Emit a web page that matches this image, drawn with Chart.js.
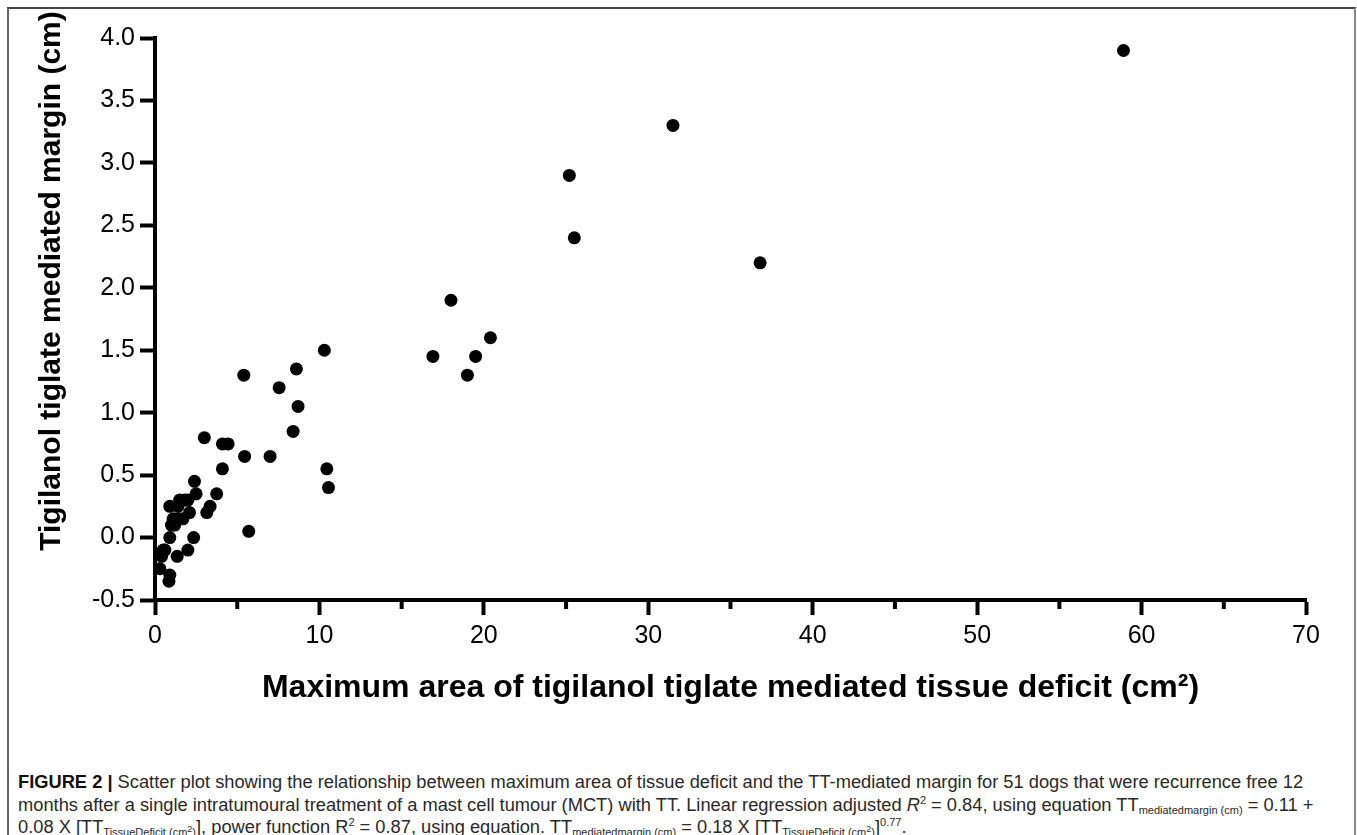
<!DOCTYPE html>
<html>
<head>
<meta charset="utf-8">
<script src="https://cdn.jsdelivr.net/npm/chart.js@4.4.1/dist/chart.umd.min.js"></script>
<style>
  html, body { margin:0; padding:0; background:#fff; width:1357px; height:835px; overflow:hidden; }
  #frame { position:absolute; left:7px; top:7px; width:1345px; height:900px;
           border-top:2px solid #444; border-left:2px solid #666; border-right:2px solid #888; pointer-events:none; }
  #chart { position:absolute; left:0; top:0; }
  #caption { position:absolute; left:18px; top:771px; font-family:"Liberation Sans Narrow","Liberation Sans",Arial,sans-serif;
             font-size:18.3px; line-height:22.5px; color:#2a2a2a; white-space:nowrap; }
  #caption sub { font-size:11px; line-height:0; vertical-align:-3px; }
  #caption sup { font-size:11px; line-height:0; vertical-align:7px; }
  #caption sub sup { vertical-align:4px; font-size:9px; }
  #caption b { font-weight:bold; color:#111; }
</style>
</head>
<body>
<div id="frame"></div>
<canvas id="chart" width="1357" height="720"></canvas>
<div id="caption">
<b>FIGURE 2 |</b> Scatter plot showing the relationship between maximum area of tissue deficit and the TT-mediated margin for 51 dogs that were recurrence free 12<br>
months after a single intratumoural treatment of a mast cell tumour (MCT) with TT. Linear regression adjusted <i>R</i><sup>2</sup> = 0.84, using equation TT<sub>mediatedmargin (cm)</sub> = 0.11 +<br>
0.08 X [TT<sub>TissueDeficit (cm<sup>2</sup>)</sub>], power function R<sup>2</sup> = 0.87, using equation. TT<sub>mediatedmargin (cm)</sub> = 0.18 X [TT<sub>TissueDeficit (cm<sup>2</sup>)</sub>]<sup>0.77</sup>.
</div>
<script>
// ---- data ----
const tissueDeficit = [58.9, 31.5, 25.2, 25.5, 36.8, 18.0, 20.4, 16.9, 19.5, 19.0,
  10.3, 8.6, 5.4, 7.55, 8.7, 8.4, 3.0, 4.1, 4.45, 5.45,
  7.0, 4.1, 10.45, 10.55, 2.4, 2.5, 3.75, 3.35, 3.15, 5.7,
  0.9, 1.4, 1.8, 2.0, 2.1, 1.7, 1.4, 1.2, 1.0, 0.9,
  2.35, 0.6, 0.4, 2.0, 1.35, 0.3, 0.9, 0.85, 0.5, 1.5, 1.1];
const mediatedMargin = [3.9, 3.3, 2.9, 2.4, 2.2, 1.9, 1.6, 1.45, 1.45, 1.3,
  1.5, 1.35, 1.3, 1.2, 1.05, 0.85, 0.8, 0.75, 0.75, 0.65,
  0.65, 0.55, 0.55, 0.4, 0.45, 0.35, 0.35, 0.25, 0.2, 0.05,
  0.25, 0.25, 0.3, 0.3, 0.2, 0.15, 0.15, 0.1, 0.1, 0.0,
  0.0, -0.1, -0.15, -0.1, -0.15, -0.25, -0.3, -0.35, -0.1, 0.3, 0.15];
const xMinorTicks = [5, 15, 25, 35, 45, 55, 65];
const xTitle = 'Maximum area of tigilanol tiglate mediated tissue deficit (cm\u00B2)';
const yTitle = 'Tigilanol tiglate mediated margin (cm)';

const FAMILY = '"Liberation Sans", Arial, Helvetica, sans-serif';

const minorTickPlugin = {
  id: 'minorTicks',
  beforeDatasetsDraw(chart) {
    const xs = chart.scales.x, ctx = chart.ctx;
    ctx.save();
    ctx.strokeStyle = '#000';
    ctx.lineWidth = 4;
    xMinorTicks.forEach(v => {
      const px = xs.getPixelForValue(v);
      ctx.beginPath();
      ctx.moveTo(px, xs.top);
      ctx.lineTo(px, xs.top + 9);
      ctx.stroke();
    });
    ctx.restore();
  }
};

const yTitlePlugin = {
  id: 'yTitle',
  afterDraw(chart) {
    const ys = chart.scales.y, ctx = chart.ctx;
    ctx.save();
    ctx.font = 'bold 30px ' + FAMILY;
    ctx.fillStyle = '#000';
    ctx.textAlign = 'center';
    ctx.textBaseline = 'middle';
    ctx.translate(ys.left + 18, (ys.top + ys.bottom) / 2 - 38);
    ctx.rotate(-Math.PI / 2);
    ctx.fillText(yTitle, 0, 0);
    ctx.restore();
  }
};

new Chart(document.getElementById('chart'), {
  type: 'scatter',
  data: {
    datasets: [{
      data: tissueDeficit.map((x, i) => ({ x: x, y: mediatedMargin[i] })),
      pointRadius: 6.5,
      pointHoverRadius: 6.5,
      pointBackgroundColor: '#000',
      pointBorderWidth: 0,
      clip: false
    }]
  },
  options: {
    responsive: false,
    animation: false,
    events: [],
    layout: { padding: { left: 34, right: 51, top: 38, bottom: 0 } },
    plugins: { legend: { display: false }, tooltip: { enabled: false } },
    scales: {
      x: {
        type: 'linear', position: 'bottom', min: 0, max: 70,
        ticks: { stepSize: 10, color: '#000', font: { family: FAMILY, size: 25 }, padding: 6, maxRotation: 0, autoSkip: false },
        grid: { drawOnChartArea: false, drawTicks: true, tickLength: 15, tickWidth: 4, tickColor: '#000' },
        border: { display: true, width: 4, color: '#000' },
        title: { display: true, text: xTitle, color: '#000', font: { family: FAMILY, size: 32, weight: 'bold' }, padding: { top: 13, bottom: 13 } },
        afterFit(s) { s.height = 120; }
      },
      y: {
        type: 'linear', position: 'left', min: -0.5, max: 4,
        ticks: { stepSize: 0.5, color: '#000', font: { family: FAMILY, size: 25 }, padding: 5,
                 callback: v => Number(v).toFixed(1) },
        grid: { drawOnChartArea: false, drawTicks: true, tickLength: 15, tickWidth: 4, tickColor: '#000' },
        border: { display: true, width: 4, color: '#000' },
        title: { display: false },
        afterFit(s) { s.width = 121; }
      }
    }
  },
  plugins: [minorTickPlugin, yTitlePlugin]
});
</script>
</body>
</html>
